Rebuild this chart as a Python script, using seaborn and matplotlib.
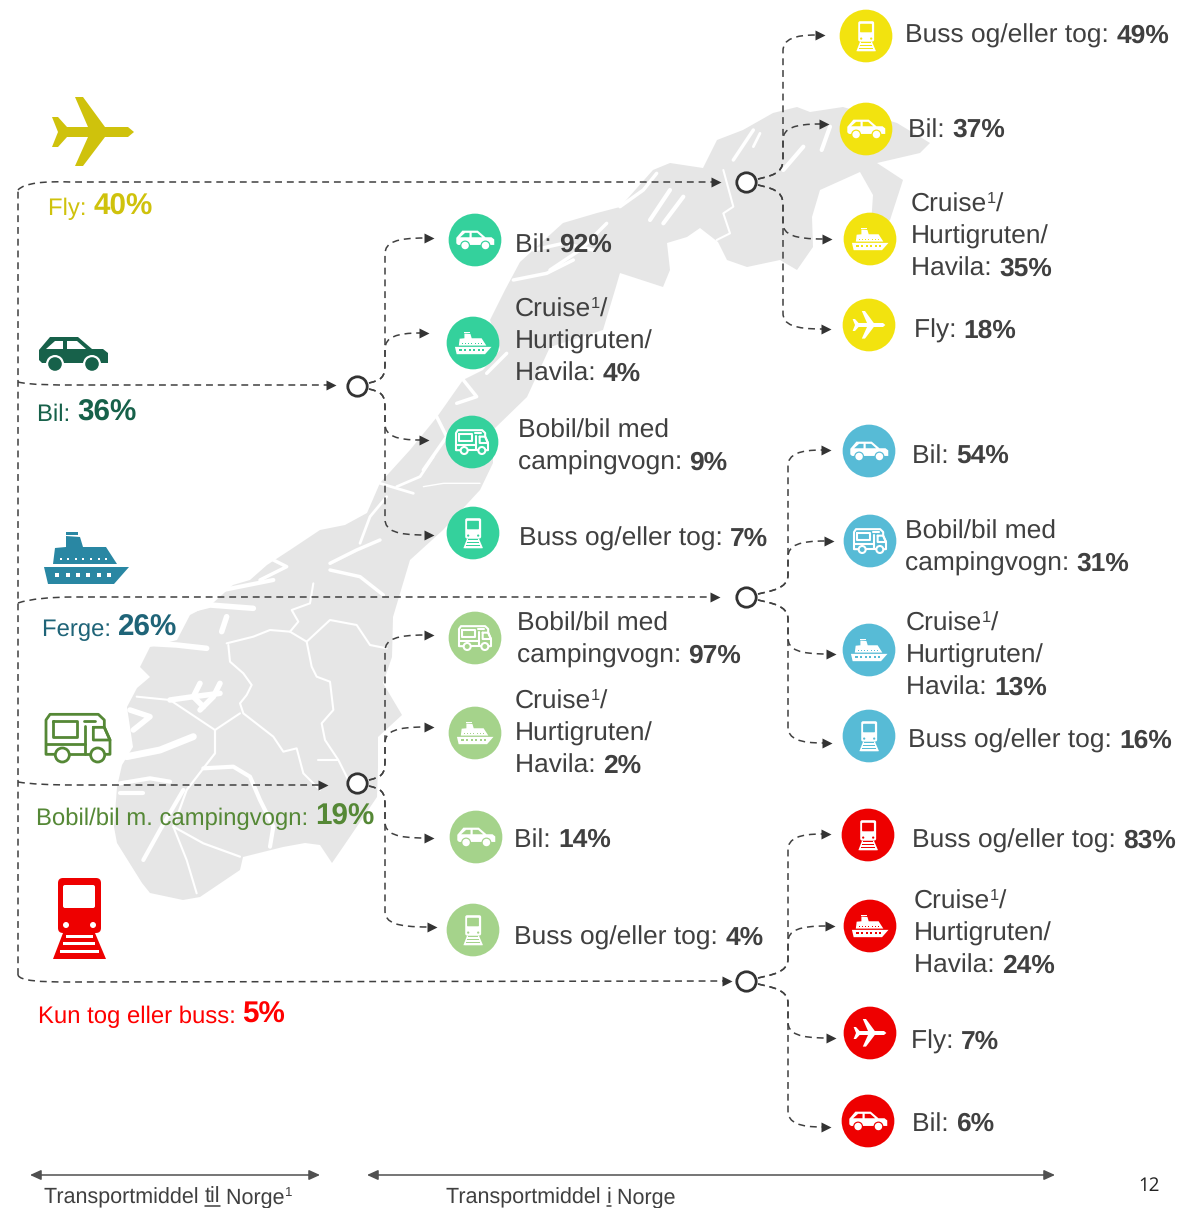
import numpy as np
import pandas as pd
import matplotlib
matplotlib.use("Agg")
import matplotlib.pyplot as plt
from matplotlib.path import Path
from matplotlib.patches import PathPatch, Polygon, Circle, Rectangle, FancyBboxPatch
import seaborn as sns

# ---- data ----
ENTRY_NAMES = ["Fly: ", "Bil: ", "Ferge: ", "Bobil/bil m. campingvogn: ", "Kun tog eller buss: "]
ENTRY_VALUES = [40, 36, 26, 19, 5]
FLY_MODES = ["tog", "bil", "cruise", "fly"]
FLY_VALUES = [49, 37, 35, 18]
BIL_MODES = ["bil", "cruise", "bobil", "tog"]
BIL_VALUES = [92, 4, 9, 7]
FERGE_MODES = ["bil", "bobil", "cruise", "tog"]
FERGE_VALUES = [54, 31, 13, 16]
BOBIL_MODES = ["bobil", "cruise", "bil", "tog"]
BOBIL_VALUES = [97, 2, 14, 4]
TOG_MODES = ["tog", "cruise", "fly", "bil"]
TOG_VALUES = [83, 24, 7, 6]
MODE_TEXT = {
    "tog": [["Buss og/eller tog: "]],
    "bil": [["Bil: "]],
    "fly": [["Fly: "]],
    "bobil": [["Bobil/bil med"], ["campingvogn: "]],
    "cruise": [["Cruise", "^1", "/"], ["Hurtigruten/"], ["Havila: "]],
}
AXIS_LEFT = "Transportmiddel "
AXIS_RIGHT = "Transportmiddel "
PAGE = "12"

# ---- style / layout ----
W, H = 1180, 1208
DARK = "#404040"
FONT = "Liberation Sans"
LABEL_PT = 19.0
ENTRY_PT = 17.2
ENTRY_BOLD_PT = 21.3
AXIS_PT = 15.5
sns.set_theme(style="white")
plt.rcParams["font.family"] = [FONT, "DejaVu Sans"]
plt.rcParams["text.hinting"] = "no_hinting"
plt.rcParams["text.hinting_factor"] = 8
fig = plt.figure(figsize=(W / 100, H / 100), dpi=100, facecolor="white")
ax = fig.add_axes([0, 0, 1, 1])
ax.set_xlim(0, W)
ax.set_ylim(H, 0)
ax.axis("off")
fig.canvas.draw()
rend = fig.canvas.get_renderer()

def twidth(s, size, bold):
    t = ax.text(0, 0, s + "|", fontsize=size, fontweight="bold" if bold else "normal")
    a = t.get_window_extent(rend).width
    t.set_text("|")
    b = t.get_window_extent(rend).width
    t.remove()
    return a - b

def runs(x, y, parts, color=DARK, z=8):
    for s, size, bold in parts:
        dy = 0
        if s.startswith("^"):
            s = s[1:]
            size = size * 0.62
            dy = -size * 0.78
        ax.text(x, y + dy, s, fontsize=size, fontweight="bold" if bold else "normal",
                color=color, va="baseline", ha="left", zorder=z)
        x += twidth(s, size, bold)
    return x

# ---- map ----
MAP_OUT = [(183,900),(150,893),(142,883),(117,843),(114,827),(117,787),(122,765),(133,747),(127,707),(137,688),
 (150,677),(140,667),(150,647),(177,640),(190,615),(213,603),(233,585),(250,580),(267,565),(290,550),(320,530),
 (345,525),(367,513),(380,483),(410,450),(437,417),(463,380),(483,370),(500,350),(490,320),(505,290),(520,262),
 (563,223),(597,213),(620,207),(653,170),(670,163),(703,168),(717,140),(743,130),(773,113),(797,107),(810,112),
 (843,107),(897,123),(930,143),(920,153),(877,163),(903,180),(890,220),(870,240),(873,195),(860,172),(820,190),
 (812,217),(813,247),(797,270),(780,260),(747,267),(727,260),(718,242),(700,228),(687,237),(667,243),(670,270),
 (663,287),(620,273),(615,290),(603,330),(550,347),(527,397),(493,430),(493,463),(480,490),(443,530),(410,560),
 (393,617),(392,657),(383,683),(402,715),(378,737),(378,767),(377,797),(343,847),(332,863),(320,845),(305,843),
 (283,847),(243,857),(240,870),(200,897)]
ax.add_patch(Polygon(MAP_OUT, closed=True, fc="#E6E6E6", ec="none", zorder=1))

def z6(p): return [(100 + a / 3, 560 + b / 3) for a, b in p]
def z7(p): return [(280 + a / 3, 230 + b / 3) for a, b in p]
def z8(p): return [(520 + a / 3, 90 + b / 3) for a, b in p]

WHITE = [
 (z6([(380,250),(460,230),(510,210),(570,215),(620,245),(690,180),(770,195),(810,255),(860,265)]), 1.5),
 (z6([(620,245),(635,320),(650,350),(690,365),(700,450),(665,490),(675,540),(715,600),(745,660)]), 1.5),
 (z6([(570,215),(595,185),(575,150),(630,130),(640,70)]), 1.5),
 (z6([(385,255),(390,305),(430,340),(455,375),(440,405),(420,430),(430,460),(520,530),(550,575),(590,565),(610,640),(660,690)]), 1.5),
 (z6([(420,460),(345,510),(270,460),(210,420),(110,410)]), 1.5),
 (z6([(345,510),(345,580),(310,625),(260,690),(220,800),(310,850),(420,890)]), 1.6),
 (z6([(310,625),(400,620),(450,650),(480,720),(520,800),(510,860)]), 3.0),
 (z6([(655,600),(715,600)]), 1.5),
 (z6([(250,690),(180,810),(130,900)]), 3.0),
 (z6([(220,800),(260,900),(290,1000)]), 1.5),
 (z6([(210,420),(280,410),(360,400)]), 4.0),
 (z6([(300,370),(280,410),(310,440)]), 4.0),
 (z6([(360,370),(340,410),(300,450)]), 4.0),
 (z6([(80,590),(180,570),(280,530)]), 5.0),
 (z6([(140,250),(230,255),(320,265)]), 4.0),
 (z6([(230,160),(330,135),(460,145)]), 4.0),
 (z6([(380,170),(365,215)]), 4.0),
 (z6([(370,90),(520,60)]), 3.0),
 (z6([(690,30),(780,50),(850,105)]), 2.5),
 (z6([(90,450),(150,470),(100,510)]), 4.0),
 (z6([(60,670),(150,655),(210,665)]), 3.0),
 (z6([(60,700),(130,700)]), 3.0),
 (z6([(480,60),(560,20),(520,0)]), 2.5),
 (z7([(240,940),(270,860),(320,800)]), 2.0),
 (z7([(300,760),(400,790)]), 2.0),
 (z7([(470,560),(500,620),(430,720)]), 2.5),
 (z7([(550,450),(590,500),(530,520)]), 2.5),
 (z7([(620,430),(680,370)]), 2.5),
 (z7([(430,770),(490,760),(600,760)]), 1.0),
 (z7([(350,770),(420,740),(460,680)]), 2.0),
 (z7([(150,1000),(230,960),(300,930)]), 2.5),
 (z7([(700,150),(800,130),(880,90)]), 2.5),
 (z7([(760,60),(850,40),(940,60)]), 2.5),
 (z8([(300,350),(370,300),(410,250)]), 2.5),
 (z8([(390,390),(450,300)]), 3.0),
 (z8([(430,400),(490,320)]), 3.0),
 (z8([(610,240),(640,350),(610,370),(630,430),(590,450)]), 1.5),
 (z8([(640,210),(700,120)]), 2.5),
 (z8([(720,130),(700,170)]), 2.0),
 (z8([(790,240),(850,170)]), 3.0),
 (z8([(905,180),(930,110)]), 3.0),
 (z8([(90,540),(180,480),(260,400)]), 2.5),
]
for pts, lw in WHITE:
    xs, ys = zip(*pts)
    ax.plot(xs, ys, color="white", lw=lw, zorder=1.5, solid_capstyle="round", solid_joinstyle="round")

# ---- icons (drawn relative to a centre, at a scale) ----
def P(pts, cx, cy, s, ref, **kw):
    ax.add_patch(Polygon([(cx + (a - ref[0]) * s, cy + (b - ref[1]) * s) for a, b in pts], closed=True, **kw))

def plane(cx, cy, s, fg):
    pts = [(134,132),(128,127),(105,127),(83,97),(75,97),(88,127),(67,127),(58,117),(52,117),(58,132),(52,147),
           (58,147),(67,137),(88,137),(75,166),(83,166),(105,137),(128,137)]
    P(pts, cx, cy, s, (93, 132), fc=fg, ec="none", zorder=6)

def car(cx, cy, s, fg, bg):
    ref = (73, 354)
    P([(39,350),(50,337),(78,337),(92,349),(103,349),(108,353),(108,363),(42,363),(39,360)], cx, cy, s, ref, fc=fg, ec="none", zorder=6)
    P([(46,349),(55,341),(63,341),(63,349)], cx, cy, s, ref, fc=bg, ec="none", zorder=6.1)
    P([(67,349),(67,341),(77,341),(86,349)], cx, cy, s, ref, fc=bg, ec="none", zorder=6.1)
    for wx in (55, 92):
        c = (cx + (wx - ref[0]) * s, cy + (364 - ref[1]) * s)
        ax.add_patch(Circle(c, 9 * s, fc=bg, ec="none", zorder=6.2))
        ax.add_patch(Circle(c, 6.8 * s, fc=fg, ec="none", zorder=6.3))

def ship(cx, cy, s, fg, bg):
    ref = (86, 558)
    P([(44,567),(129,567),(114,584),(48,584)], cx, cy, s, ref, fc=fg, ec="none", zorder=6)
    P([(53,564),(55,548),(66,547),(66,536),(80,537),(83,547),(106,547),(117,564)], cx, cy, s, ref, fc=fg, ec="none", zorder=6)
    P([(66,532),(78,532),(78,535),(66,535)], cx, cy, s, ref, fc=fg, ec="none", zorder=6)
    for wx in (57, 68, 78, 88, 99, 109):
        ax.add_patch(Rectangle((cx + (wx - 2.4 - ref[0]) * s, cy + (575 - 2.4 - ref[1]) * s), 4.8 * s, 4.8 * s, fc=bg, ec="none", zorder=6.1))
    for wx in (61, 68, 76, 83, 91, 99, 106):
        ax.add_patch(Rectangle((cx + (wx - 1.2 - ref[0]) * s, cy + (559 - 1.2 - ref[1]) * s), 2.4 * s, 2.4 * s, fc=bg, ec="none", zorder=6.1))

def camper(cx, cy, s, fg, lw, bg="none"):
    ref = (78, 738)
    def L(pts, closed=False):
        q = [((cx + (a / 3 - ref[0]) * s), (cy + (520 + b / 3 - ref[1]) * s)) for a, b in pts]
        if closed:
            q.append(q[0])
        xs, ys = zip(*q)
        ax.plot(xs, ys, color=fg, lw=lw, zorder=6, solid_joinstyle="round", solid_capstyle="round")
    L([(165,703),(138,703),(138,600),(150,583),(295,583),(313,600),(313,622),(330,660),(330,703),(315,703)])
    L([(205,703),(270,703)])
    L([(158,603),(232,603),(232,650),(158,650)], True)
    L([(280,622),(313,622),(330,660),(280,660)], True)
    L([(255,618),(255,703)])
    L([(138,673),(255,673)])
    L([(252,602),(285,602)])
    for wx in (187, 293):
        ax.add_patch(Circle((cx + (wx / 3 - ref[0]) * s, cy + (520 + 705 / 3 - ref[1]) * s), 7 * s, fc=bg if bg != "none" else "white",
                            ec=fg, lw=lw, zorder=6.1))

def train(cx, cy, s, fg, bg):
    ref = (79, 918)
    ax.add_patch(FancyBboxPatch((cx + (58 + 4 - ref[0]) * s, cy + (878 + 4 - ref[1]) * s), 35 * s, 47 * s,
                                boxstyle=f"round,pad={4*s},rounding_size={5*s}", fc=fg, ec="none", zorder=6))
    ax.add_patch(FancyBboxPatch((cx + (64 - ref[0]) * s, cy + (886 - ref[1]) * s), 30 * s, 21 * s,
                                boxstyle=f"round,pad={1*s},rounding_size={2*s}", fc=bg, ec="none", zorder=6.1))
    for wx in (66, 93):
        ax.add_patch(Circle((cx + (wx - ref[0]) * s, cy + (925 - ref[1]) * s), 3 * s, fc=bg, ec="none", zorder=6.1))
    P([(63,933),(95,933),(106,959),(53,959)], cx, cy, s, ref, fc=fg, ec="none", zorder=6)
    for y0, y1, i0, i1 in [(935,938,65.5,92.5),(942,945,63,95),(949.5,953,60,98.5)]:
        ax.add_patch(Rectangle((cx + (i0 - ref[0]) * s, cy + (y0 - ref[1]) * s), (i1 - i0) * s, (y1 - y0) * s, fc=bg, ec="none", zorder=6.1))
    P([(63,953),(58,953),(56,959),(103,959),(101,953)], cx, cy, s, ref, fc=fg, ec="none", zorder=6.05)

def small_icon(mode, cx, cy, bg):
    if mode == "tog":
        train(cx, cy, 0.37, "white", bg)
    elif mode == "bil":
        car(cx, cy, 0.55, "white", bg)
    elif mode == "fly":
        plane(cx, cy, 0.40, "white")
    elif mode == "cruise":
        ship(cx, cy, 0.43, "white", bg)
    else:
        camper(cx, cy, 0.50, "white", 1.5, bg)

# ---- big icons ----
plane(93, 132, 1, "#CFC20C")
car(73, 354, 1, "#17614A", "white")
ship(86, 558, 1, "#2987A3", "white")
camper(78, 738, 1, "#558836", 2.0)
train(79, 918, 1, "#EE0000", "white")

# ---- groups ----
GROUPS = [
    dict(modes=FLY_MODES, vals=FLY_VALUES, color="#F2E30F", hub=(746,182), sx=783,
         tips=[(824,35),(828,124),(831,239),(830,329)],
         cen=[(866,36),(866,129),(870,239),(869,325)],
         lx=[905,908,911,914], ly=[43,137,212,338]),
    dict(modes=BIL_MODES, vals=BIL_VALUES, color="#34D19C", hub=(357,386), sx=385,
         tips=[(433,238),(428,333),(428,440),(433,535)],
         cen=[(475,240),(473,343),(472,442),(473,533)],
         lx=[515,515,518,519], ly=[252,317,438,546]),
    dict(modes=FERGE_MODES, vals=FERGE_VALUES, color="#57BBD6", hub=(746,597), sx=788,
         tips=[(830,450),(833,541),(835,654),(831,743)],
         cen=[(869,451),(870,541),(869,650),(869,736)],
         lx=[912,905,906,908], ly=[463,539,631,748]),
    dict(modes=BOBIL_MODES, vals=BOBIL_VALUES, color="#A5D38B", hub=(357,783), sx=385,
         tips=[(433,635),(433,727),(433,838),(436,927)],
         cen=[(475,638),(475,733),(476,837),(473,930)],
         lx=[517,515,514,514], ly=[631,709,847,945]),
    dict(modes=TOG_MODES, vals=TOG_VALUES, color="#EE0000", hub=(746,981), sx=788,
         tips=[(830,834),(834,926),(835,1038),(830,1127)],
         cen=[(868,835),(870,926),(870,1033),(868,1121)],
         lx=[912,914,911,912], ly=[848,909,1049,1131]),
]

DASH = dict(fc="none", ec=DARK, lw=1.1, linestyle=(0, (4.5, 3.2)), zorder=3)
def dashed(verts, codes):
    ax.add_patch(PathPatch(Path(verts, codes), **DASH))

M, L_, C = Path.MOVETO, Path.LINETO, Path.CURVE4
def head(x, y):
    ax.plot([x - 4.5], [y], marker=">", ms=7.2, color="#333333", mec="none", zorder=3.5)

def branch(hub, sx, tip):
    hx, hy = hub
    tx, ty = tip
    sg = -1 if ty < hy else 1
    v = [(hx + 12, hy + sg * 3), (hx + 24, hy + sg * 6), (sx, hy + sg * 8), (sx, hy + sg * 22),
         (sx, ty - sg * 16), (sx, ty - sg * 4), (sx + 12, ty), (tx - 8, ty)]
    dashed(v, [M, C, C, C, L_, C, C, C])
    head(tx, ty)

rows = []
for g in GROUPS:
    for m, v, tip, cen, lx, ly in zip(g["modes"], g["vals"], g["tips"], g["cen"], g["lx"], g["ly"]):
        branch(g["hub"], g["sx"], tip)
        rows.append(dict(x=cen[0], y=cen[1], c=g["color"]))
        small_icon(m, cen[0], cen[1], g["color"])
        lines = MODE_TEXT[m]
        for i, line in enumerate(lines):
            parts = [(s, LABEL_PT, False) for s in line]
            if i == len(lines) - 1:
                parts.append((f"{v}%", LABEL_PT, True))
            runs(lx, ly + i * 32, parts)

bub = pd.DataFrame(rows)
sns.scatterplot(data=bub, x="x", y="y", hue="c", palette={c: c for c in bub["c"].unique()},
                s=1440, linewidth=0, legend=False, ax=ax, zorder=4, clip_on=False)
hubs = pd.DataFrame([g["hub"] for g in GROUPS], columns=["x", "y"])
sns.scatterplot(data=hubs, x="x", y="y", s=195, color="white", edgecolor="#333333", linewidth=2.0,
                legend=False, ax=ax, zorder=5)
ax.set_xlim(0, W); ax.set_ylim(H, 0); ax.axis("off")

# ---- entry lines ----
dashed([(18,975),(18,190)], [M, L_])
dashed([(18,190),(24,183),(45,181),(70,182),(712,182)], [M, C, C, C, L_]); head(720,182)
dashed([(18,382),(30,385),(55,385),(75,385),(327,385)], [M, C, C, C, L_]); head(335,385)
dashed([(18,603),(30,599),(50,597),(75,597),(712,597)], [M, C, C, C, L_]); head(719,597)
dashed([(18,782),(30,784),(50,785),(75,785),(320,785)], [M, C, C, C, L_]); head(327,785)
dashed([(18,975),(20,981),(40,982),(70,982),(724,981)], [M, C, C, C, L_]); head(731,981)

# ---- entry labels ----
ENTRY_STYLE = [(48,215,"#CFC20C"),(37,421,"#17614A"),(42,636,"#1F6478"),(36,825,"#558836"),(38,1023,"#FF0000")]
for name, val, (x, y, col) in zip(ENTRY_NAMES, ENTRY_VALUES, ENTRY_STYLE):
    runs(x, y, [(name, ENTRY_PT, False), (f"{val}%", ENTRY_BOLD_PT, True)], color=col)

# ---- bottom ----
for x0, x1 in [(30, 320), (367, 1055)]:
    ax.annotate("", xy=(x1, 1175), xytext=(x0, 1175),
                arrowprops=dict(arrowstyle="<|-|>,head_length=0.55,head_width=0.25", color="#505050", lw=1.1,
                                shrinkA=0, shrinkB=0), zorder=3)

x = runs(44, 1203, [(AXIS_LEFT, AXIS_PT, False)])
x2 = runs(x, 1203, [("til", AXIS_PT, False)])
ax.plot([x, x2], [1206, 1206], color=DARK, lw=1.1, zorder=8)
runs(x2, 1203, [(" Norge", AXIS_PT, False), ("^1", AXIS_PT, False)])
x = runs(446, 1203, [(AXIS_RIGHT, AXIS_PT, False)])
x2 = runs(x, 1203, [("i", AXIS_PT, False)])
ax.plot([x, x2], [1206, 1206], color=DARK, lw=1.1, zorder=8)
runs(x2, 1203, [(" Norge", AXIS_PT, False)])
ax.text(1138, 1191, PAGE, fontsize=13.5, family="Open Sans", color="#222222", va="baseline", ha="left")

fig.savefig("out.png", dpi=100, facecolor="white")
